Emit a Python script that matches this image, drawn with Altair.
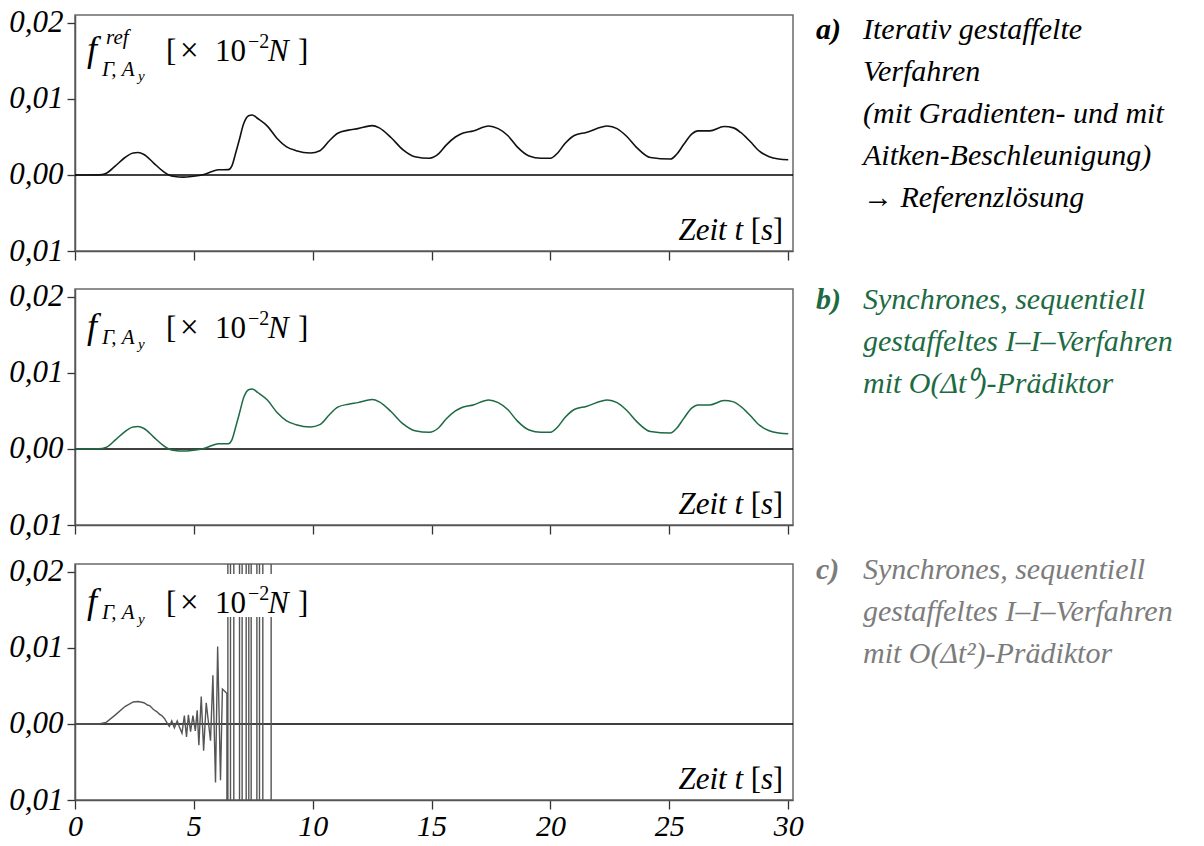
import altair as alt
import pandas as pd

# ---------------- data ----------------
t_ref = [0.0, 0.5, 1.0, 1.3, 1.7, 2.1, 2.45, 2.65, 2.9, 3.3, 3.7, 3.95, 4.2, 4.55, 4.9,
         5.45, 5.8, 6.05, 6.45, 6.6, 6.75, 6.9, 7.1, 7.3, 7.45, 7.7, 8.1, 8.5, 8.9, 9.3,
         9.9, 10.3, 10.7, 11.05, 11.5, 11.9, 12.5, 12.8, 13.3, 13.8, 14.3, 14.9, 15.3,
         15.6, 16.0, 16.3, 16.75, 17.4, 17.8, 18.2, 18.6, 19.1, 19.6, 20.0, 20.3, 20.6,
         21.0, 21.5, 22.4, 22.8, 23.2, 23.66, 24.2, 25.05, 25.3, 25.6, 25.95, 26.2, 26.7,
         27.3, 27.7, 28.0, 28.4, 28.8, 29.2, 29.6, 30.0]
f_ref = [0.0, 0.0, 0.00002, 0.0002, 0.0012, 0.0023, 0.0029, 0.00295, 0.0027, 0.0016,
         0.0005, 0.0, -0.0002, -0.00028, -0.0002, 0.0001, 0.0005, 0.00068, 0.0007, 0.0012,
         0.0028, 0.0045, 0.0068, 0.0078, 0.0079, 0.0074, 0.0064, 0.0048, 0.0037, 0.0032,
         0.0029, 0.0032, 0.0045, 0.0055, 0.0059, 0.0061, 0.0065, 0.0062, 0.0049, 0.0033,
         0.0024, 0.0022, 0.0028, 0.0039, 0.0050, 0.0055, 0.0058, 0.00645, 0.0061, 0.0052,
         0.0037, 0.0025, 0.0022, 0.0022, 0.0029, 0.0041, 0.0052, 0.0056, 0.00645, 0.0061,
         0.0051, 0.0035, 0.0023, 0.0021, 0.0027, 0.0040, 0.0054, 0.0058, 0.0058, 0.00638,
         0.0062, 0.0056, 0.0044, 0.0031, 0.0024, 0.0021, 0.0020]

# panel c: diverging solution (values of +/-1 lie far outside the visible range)
t_c = [0.0, 0.5, 1.0, 1.3, 1.7, 2.1, 2.45, 2.65, 2.9, 3.05, 3.15, 3.3, 3.45, 3.55, 3.65,
       3.77, 3.9, 3.97, 4.07, 4.18, 4.3, 4.39, 4.5, 4.6, 4.69, 4.77, 4.86, 4.96, 5.06,
       5.14, 5.21, 5.31, 5.41, 5.52, 5.7, 5.8, 5.91, 6.0, 6.12, 6.2, 6.3, 6.39, 6.40,
       6.43, 6.43, 6.54, 6.54, 6.68, 6.68, 6.92, 6.92, 7.03, 7.03, 7.2, 7.2, 7.31, 7.31,
       7.41, 7.41, 7.65, 7.65, 7.76, 7.76, 7.9, 7.9, 8.25, 8.25]
f_c = [0.0, 0.0, 0.00002, 0.0002, 0.0012, 0.0023, 0.0029, 0.00295, 0.0028, 0.0025,
       0.0024, 0.0019, 0.0016, 0.0013, 0.0011, 0.0007, 0.0, -0.0003, 0.0004, -0.0005,
       0.0004, -0.0004, -0.0012, 0.0011, -0.0017, 0.0012, -0.001, 0.0011, -0.0009, 0.0018,
       -0.0028, 0.0036, -0.0035, 0.0028, -0.0022, 0.0064, -0.0077, 0.0102, -0.0074,
       0.0046, 0.0043, 0.004, -1.0,
       -1.0, 1.0, 1.0, -1.0, -1.0, 1.0, 1.0, -1.0, -1.0, 1.0, 1.0, -1.0, -1.0, 1.0,
       1.0, -1.0, -1.0, 1.0, 1.0, -1.0, -1.0, 1.0, 1.0, -1.0]

ticks_x = [0, 5, 10, 15, 20, 25, 30]
ticks_y = [-0.01, 0.0, 0.01, 0.02]

text_a = ["Iterativ gestaffelte", "Verfahren", "(mit Gradienten- und mit",
          "Aitken-Beschleunigung)", "\u2192 Referenzl\u00f6sung"]
text_b = ["Synchrones, sequentiell", "gestaffeltes I\u2013I\u2013Verfahren",
          "mit O(\u0394t\u2070)-Pr\u00e4diktor"]
text_c = ["Synchrones, sequentiell", "gestaffeltes I\u2013I\u2013Verfahren",
          "mit O(\u0394t\u00b2)-Pr\u00e4diktor"]

# ---------------- styling ----------------
W, H = 718, 236
XDOM = [0, 30.2]
YDOM = [-0.01, 0.02105]
SERIF = "Liberation Serif"
GREEN = "#1d6a43"
GREY_TXT = "#7c7c7c"

one = pd.DataFrame({"k": [0]})


def txt(s, x, y, size, color="black", style="italic", weight="normal", align="left"):
    return alt.Chart(one).mark_text(
        text=s, font=SERIF, fontSize=size, fontStyle=style, fontWeight=weight,
        color=color, align=align, baseline="alphabetic"
    ).encode(x=alt.value(x), y=alt.value(y))


def x_axis(labels):
    if labels:
        return alt.Axis(values=ticks_x, title=None, grid=False, tickSize=9,
                        labelPadding=2, labelFontSize=30, labelFont=SERIF,
                        labelFontStyle="italic", labelColor="black", labelFlush=False)
    return alt.Axis(values=ticks_x, title=None, grid=False, tickSize=9, labels=False)


y_axis = alt.Axis(values=ticks_y, title=None, grid=False, tickSize=8, labelPadding=4,
                  labelFontSize=31, labelFont=SERIF, labelFontStyle="italic",
                  labelColor="black", labelFlush=False,
                  labelExpr="replace(format(abs(datum.value), '.2f'), '.', ',')")


def title_layers(ref):
    lay = []
    if ref:
        fb, sb = 46, 61
        lay.append(txt("f", 12, fb, 36))
        lay.append(txt("ref", 31, 29, 21))
    else:
        fb, sb = 49, 55
        lay.append(txt("f", 12, fb, 36))
    lay.append(txt("\u0393, A", 27, sb, 21))
    lay.append(txt("y", 63, sb + 5, 15))
    lay.append(txt("[", 91, fb, 31, style="normal"))
    lay.append(txt("\u00d7", 105, fb, 33, style="normal"))
    lay.append(txt("10", 140, fb, 31, style="normal"))
    lay.append(txt("\u22122", 173, fb - 13, 20, style="normal"))
    lay.append(txt("N", 193, fb, 31))
    lay.append(txt("]", 223, fb, 31, style="normal"))
    # axis caption "Zeit t [s]"
    lay.append(txt("]", 708, 225, 31, style="normal", align="right"))
    lay.append(txt("s", 698, 225, 31, align="right"))
    lay.append(txt("[", 686, 225, 31, style="normal", align="right"))
    lay.append(txt("Zeit t", 668, 225, 31, align="right"))
    return lay


def side_text(tag, lines, base, color):
    lay = [txt(tag, 741, base, 30, color=color, weight="bold")]
    for i, s in enumerate(lines):
        lay.append(txt(s, 788, base + 42 * i, 30, color=color))
    return lay


def panel(t, f, color, sw, interp, labels, ref, tag, lines, base, tcolor, mask=False):
    df = pd.DataFrame({"t": t, "f": f, "i": list(range(len(t)))})
    xs = alt.Scale(domain=XDOM, nice=False, zero=False)
    ys = alt.Scale(domain=YDOM, nice=False, zero=False)
    rule = alt.Chart(one).mark_rule(color="black", strokeWidth=1.3).encode(
        y=alt.datum(0, scale=ys))
    line = alt.Chart(df).mark_line(color=color, strokeWidth=sw, clip=True,
                                   interpolate=interp).encode(
        x=alt.X("t:Q", scale=xs, axis=x_axis(labels)),
        y=alt.Y("f:Q", scale=ys, axis=y_axis),
        order="i:Q",
    )
    layers = [rule, line]
    if mask:
        layers.append(alt.Chart(one).mark_rect(color="white").encode(
            x=alt.value(8), x2=alt.value(236), y=alt.value(10), y2=alt.value(53)))
    layers += title_layers(ref)
    layers += side_text(tag, lines, base, tcolor)
    return alt.layer(*layers).properties(width=W, height=H)


pa = panel(t_ref, f_ref, "#111111", 1.6, "monotone", False, True, "a)", text_a, 24,
           "black")
pb = panel(t_ref, f_ref, GREEN, 1.5, "monotone", False, False, "b)", text_b, 20, GREEN)
pc = panel(t_c, f_c, "#555555", 1.4, "linear", True, False, "c)", text_c, 15, GREY_TXT,
           mask=True)

chart = alt.vconcat(pa, pb, pc, spacing=13).properties(
    padding={"left": 8, "top": 6, "right": 5, "bottom": 0},
    background="white",
).configure_view(
    stroke="#6a6a6a", strokeWidth=1.5
).configure_axis(
    domainColor="#555555", domainWidth=1.5, tickColor="#333333", tickWidth=1.3
)

chart.save("out.html", embed_options={"renderer": "svg", "actions": False})
